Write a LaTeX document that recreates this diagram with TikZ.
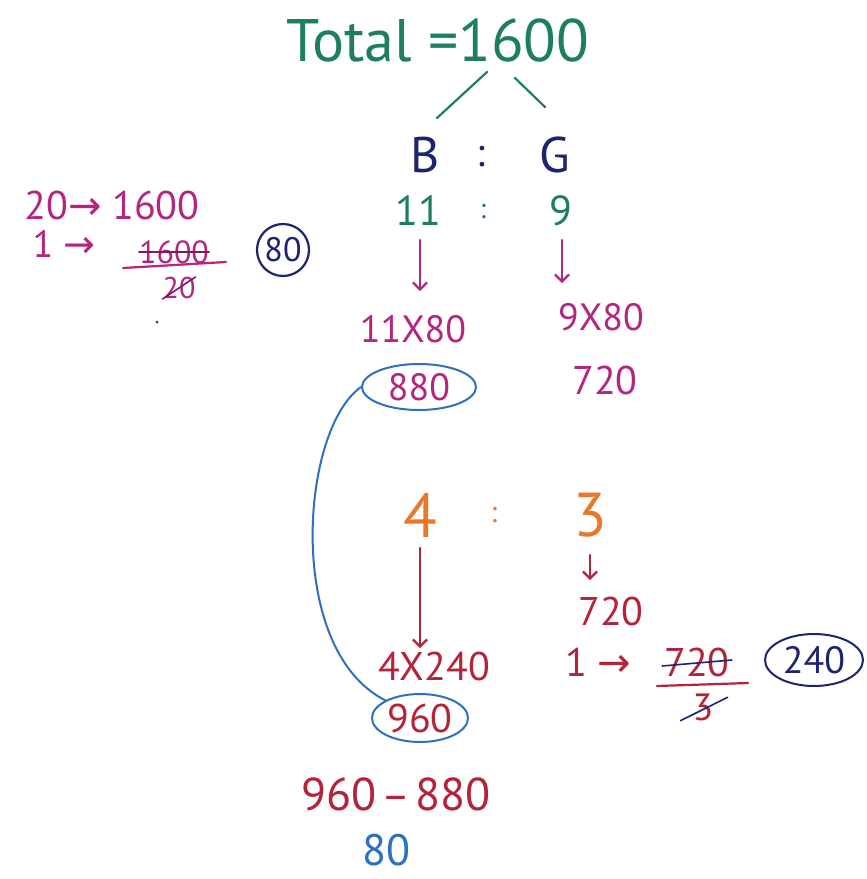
\documentclass[tikz,border=0pt]{standalone}
\usepackage{fontspec}
\setmainfont{PT Sans}
\newfontfamily\symf{DejaVu Sans}
\usetikzlibrary{shapes.geometric,arrows.meta,calc}
\definecolor{hgreen}{HTML}{1E7F5C}
\definecolor{hmag}{HTML}{B5257F}
\definecolor{hnavy}{HTML}{1C2470}
\definecolor{horange}{HTML}{E8782A}
\definecolor{hred}{HTML}{B3243A}
\definecolor{hblue}{HTML}{2E70BF}
\tikzset{
  hw/.style={inner sep=0pt, font=\fontsize{#1}{#1}\selectfont},
  hw/.default=36,
  pen/.style={line width=2.2pt, line cap=round},
  arr/.style={pen, -{Straight Barb[length=7pt,width=14pt]}},
  ring/.style={draw, line width=2pt, ellipse, inner sep=0pt},
  strike/.style={line width=1.6pt, line cap=round}
}
\begin{document}
\begin{tikzpicture}[x=1pt,y=-1pt]
\useasboundingbox (0,0) rectangle (867,879);
\fill[white] (0,0) rectangle (867,879);
% title
\node[hw=60, text=hgreen] (total) at (438,40) {Total =1600};
\coordinate (t1) at (487,72); \coordinate (t2) at (437,118);
\coordinate (t3) at (515,78); \coordinate (t4) at (545,107);
\draw[pen, hgreen] (t1) -- (t2);
\draw[pen, hgreen] (t3) -- (t4);
% B : G
\node[hw=50, text=hnavy] (B) at (425,155) {B};
\node[hw=40, text=hnavy] (c1) at (481,157) {:};
\node[hw=50, text=hnavy] (G) at (555,155) {G};
% 11 : 9
\node[hw=42, text=hgreen] (n11) at (418,211) {11};
\node[hw=28, text=hgreen] (c2) at (483,212) {:};
\node[hw=42, text=hgreen] (n9) at (561,211) {9};
% arrows
\coordinate (a1) at (420,240); \coordinate (a2) at (420,291);
\coordinate (a3) at (562,240); \coordinate (a4) at (562,283);
\draw[arr, hmag] (a1) -- (a2);
\draw[arr, hmag] (a3) -- (a4);
% products
\node[hw=38, text=hmag] (p11) at (413,329) {11X80};
\node[hw=38, text=hmag] (p9) at (601,317) {9X80};
\node[ring, draw=hblue, minimum width=114, minimum height=46, hw=38, text=hmag] (e880) at (419,387) {880};
\node[hw=40, text=hmag] (v720) at (605,380) {720};
% left calculation
\node[hw=40, text=hmag] (l1) at (112,205) {20{\symf→} 1600};
\node[hw=38, text=hmag] (l2) at (64,244) {1 {\symf→}};
\node[hw=32, text=hmag] (f1600) at (174,252) {1600};
\draw[strike, hmag!70!black] (f1600.west) -- (f1600.east);
\coordinate (fl1) at (123,268); \coordinate (fl2) at (226,262);
\draw[pen, hmag] (fl1) -- (fl2);
\node[hw=30, text=hmag] (f20) at (179,288) {20};
\draw[strike, hmag!70!black] (f20.south west) -- (f20.north east);
\node[draw=hnavy, line width=2.2pt, circle, minimum size=52, inner sep=0pt, text=hnavy, hw=34] (c80) at (283,250) {80};
\fill[hmag!60!black] (157,322) circle (1.5);
% 4 : 3
\node[hw=62, text=horange] (n4) at (420,515) {4};
\node[hw=30, text=horange] (c3) at (494,515) {:};
\node[hw=62, text=horange] (n3) at (590,515) {3};
\coordinate (r1) at (420,548); \coordinate (r2) at (420,648);
\draw[arr, hred] (r1) -- (r2);
\coordinate (r3) at (590,555); \coordinate (r4) at (590,580);
\draw[arr, hred] (r3) -- (r4);
\node[hw=40, text=hred] (v720b) at (611,611) {720};
% right fraction
\node[hw=40, text=hred] (l3) at (598,662) {1 {\symf→}};
\node[hw=40, text=hred] (f720) at (697,662) {720};
\draw[strike, hnavy] ($(f720.west)+(-2,4)$) -- ($(f720.east)+(2,-2)$);
\coordinate (fr1) at (657,686); \coordinate (fr2) at (748,683);
\draw[pen, hred] (fr1) -- (fr2);
\node[hw=38, text=hred] (f3) at (703,707) {3};
\draw[strike, hnavy] ($(f3.south west)+(-12,0)$) -- ($(f3.north east)+(14,4)$);
\node[ring, draw=hnavy, minimum width=98, minimum height=52, hw=38, text=hnavy] (e240) at (814,660) {240};
% bottom
\node[hw=40, text=hred] (p4) at (434,666) {4X240};
\node[ring, draw=hblue, minimum width=96, minimum height=48, hw=40, text=hred] (e960) at (420,718) {960};
\node[hw=46, text=hred] (diff) at (396,794) {960{\symf\,–\,}880};
\node[hw=44, text=hblue] (res) at (386,850) {80};
% blue curve
\draw[pen, hblue, line width=2pt] (e880.west) .. controls (300,430) and (285,650) .. (e960.north west);
\end{tikzpicture}
\end{document}
